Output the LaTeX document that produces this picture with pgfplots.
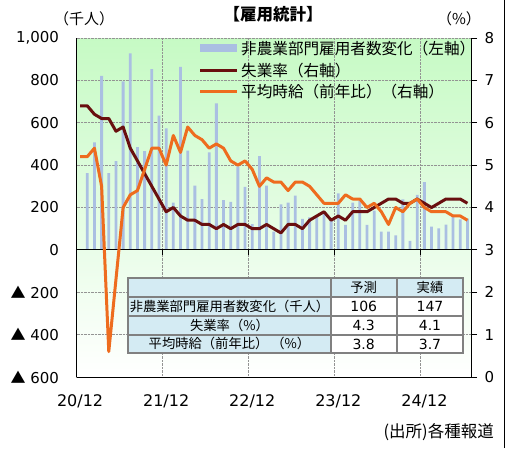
\documentclass[border=0pt]{standalone}
\usepackage{fontspec}
\setmainfont{DejaVu Sans}
\newfontfamily\jp{Noto Sans CJK JP}
\usepackage{pgfplots}
\pgfplotsset{compat=1.18}
\usepackage{pgfplotstable}
\definecolor{barblue}{RGB}{170,191,226}
\definecolor{unempc}{RGB}{105,15,15}
\definecolor{ahec}{RGB}{238,108,30}
\definecolor{bgtop}{RGB}{198,250,196}
\definecolor{tblue}{RGB}{212,235,243}
\definecolor{tgray}{RGB}{128,128,128}
\newcommand\fs[1]{\fontsize{#1}{#1}\selectfont}

\pgfplotstableread{
idx nfp unemp ahe
0 nan 6.4 5.2
1 362 6.4 5.2
2 507 6.2 5.4
3 821 6.1 4.5
4 362 6.1 0.6
5 419 5.8 2.3
6 795 5.9 4.0
7 927 5.4 4.3
8 485 5.1 4.4
9 466 4.8 4.9
10 853 4.5 5.4
11 634 4.2 5.4
12 573 3.9 5.0
13 223 4.0 5.7
14 864 3.8 5.3
15 469 3.7 5.9
16 303 3.7 5.7
17 240 3.6 5.6
18 460 3.6 5.4
19 692 3.5 5.5
20 235 3.6 5.4
21 226 3.5 5.1
22 394 3.6 5.0
23 297 3.6 5.1
24 122 3.5 4.9
25 442 3.5 4.5
26 303 3.6 4.7
27 86 3.5 4.6
28 215 3.4 4.6
29 223 3.6 4.4
30 256 3.6 4.6
31 146 3.5 4.6
32 154 3.7 4.5
33 165 3.8 4.3
34 173 3.9 4.1
35 146 3.7 4.1
36 267 3.8 4.1
37 118 3.7 4.3
38 223 3.9 4.2
39 232 3.9 4.2
40 118 3.9 4.0
41 185 4.0 4.1
42 86 4.1 3.9
43 86 4.2 3.6
44 69 4.2 4.0
45 238 4.1 3.9
46 43 4.1 4.1
47 260 4.2 4.2
48 320 4.1 4.0
49 110 4.0 3.9
50 102 4.1 3.9
51 119 4.2 3.9
52 158 4.2 3.8
53 144 4.2 3.8
54 147 4.1 3.7
}\data

\begin{document}
\begin{tikzpicture}
\useasboundingbox (0pt,0pt) rectangle (510pt,448pt);
\begin{axis}[
  at={(76.5pt,71pt)}, anchor=south west,
  width=394.5pt, height=339pt, scale only axis,
  xmin=0, xmax=55, ymin=-600, ymax=1000,
  axis x line*=bottom, axis y line*=left,
  axis line style={-, black, line width=1pt},
  every outer x axis line/.append style={-},
  every outer y axis line/.append style={-},
  axis background/.style={top color=bgtop, bottom color=white},
  xtick={0,12,24,36,48},
  xticklabels={20/12,21/12,22/12,23/12,24/12},
  xticklabel style={xshift=3.6pt, yshift=-14pt, font=\fs{16}},
  ytick={-600,-400,-200,0,200,400,600,800,1000},
  yticklabels={{\jp ▲}~600,{\jp ▲}~400,{\jp ▲}~200,0,200,400,600,800,{1,000}},
  yticklabel style={font=\fs{15}, xshift=-14pt},
  major tick length=0pt,
  tick style={draw=none},
  xmajorgrids, ymajorgrids,
  grid style={gray!85, densely dotted, line width=0.9pt},
]
\addplot[ybar, bar width=2.8pt, bar shift=0pt, fill=barblue, draw=none]
  table[x expr=\thisrow{idx}+0.5, y=nfp]{\data};
\draw[black, line width=1pt] (axis cs:0,0) -- (axis cs:55,0);
\pgfplotsinvokeforeach{12,24,36,48}{
  \draw[black, line width=1pt] (axis cs:#1,0) -- ++(0pt,-5pt);
}
\end{axis}
\begin{axis}[
  at={(76.5pt,71pt)}, anchor=south west,
  width=394.5pt, height=339pt, scale only axis,
  xmin=0, xmax=55, ymin=0, ymax=8,
  axis x line=none, axis y line*=right,
  axis line style={-, black, line width=1pt},
  every outer y axis line/.append style={-},
  ytick={0,1,2,3,4,5,6,7,8},
  /pgf/number format/assume math mode=true,
  yticklabel style={font=\fs{15}, xshift=4pt},
  tick align=outside, major tick length=6pt,
  ytick style={black, line width=1pt},
]
\addplot[unempc, line width=3pt, line join=round]
  table[x expr=\thisrow{idx}+0.5, y=unemp]{\data};
\addplot[ahec, line width=3pt, line join=round]
  table[x expr=\thisrow{idx}+0.5, y=ahe]{\data};
\end{axis}

% legend
\fill[barblue] (200pt,395.5pt) rectangle (237pt,403.5pt);
\node[anchor=west, inner sep=0pt] at (241pt,399.7pt) {\jp\fs{15.6}非農業部門雇用者数変化（左軸）};
\draw[unempc, line width=3pt] (200pt,377.5pt) -- (237pt,377.5pt);
\node[anchor=west, inner sep=0pt] at (241pt,377.5pt) {\jp\fs{15.6}失業率（右軸）};
\draw[ahec, line width=3pt] (200pt,356.3pt) -- (237pt,356.3pt);
\node[anchor=west, inner sep=0pt] at (241pt,356.3pt) {\jp\fs{15.6}平均時給（前年比）（右軸）};

% titles
\node[inner sep=0pt] at (273pt,433.5pt) {\jp\bfseries\fs{16.5}【雇用統計】};
\node[inner sep=0pt] at (84pt,429pt) {\jp\fs{15}（千人）};
\node[inner sep=0pt] at (459pt,429pt) {\jp\fs{15}（\%）};
\node[anchor=east, inner sep=0pt] at (494pt,16pt) {\jp\fs{16.5}(出所)各種報道};
\draw[black, line width=1.5pt] (504.5pt,0pt) -- (504.5pt,448pt);

% table
\fill[tblue] (128.3pt,94.7pt) rectangle (330.7pt,169.7pt);
\fill[tblue] (330.7pt,150.95pt) rectangle (463.3pt,169.7pt);
\fill[white] (330.7pt,94.7pt) rectangle (463.3pt,150.95pt);
\draw[tgray, line width=2pt] (128.3pt,94.7pt) rectangle (463.3pt,169.7pt);
\foreach \yy in {150.95,132.2,113.45} {\draw[tgray, line width=2pt] (128.3pt,\yy pt) -- (463.3pt,\yy pt);}
\foreach \xx in {330.7,396.7} {\draw[tgray, line width=2pt] (\xx pt,94.7pt) -- (\xx pt,169.7pt);}
\node at (363.7pt,160.3pt) {\jp\fs{13.3}予測};
\node at (430pt,160.3pt) {\jp\fs{13.3}実績};
\node at (229.5pt,141.6pt) {\jp\fs{13.3}非農業部門雇用者数変化（千人）};
\node at (229.5pt,122.8pt) {\jp\fs{13.3}失業率（\%）};
\node at (229.5pt,104.1pt) {\jp\fs{13.3}平均時給（前年比）\ （\%）};
\node at (363.7pt,141.6pt) {\fs{14}106};
\node at (430pt,141.6pt) {\fs{14}147};
\node at (363.7pt,122.8pt) {\fs{14}4.3};
\node at (430pt,122.8pt) {\fs{14}4.1};
\node at (363.7pt,104.1pt) {\fs{14}3.8};
\node at (430pt,104.1pt) {\fs{14}3.7};
\end{tikzpicture}
\end{document}
